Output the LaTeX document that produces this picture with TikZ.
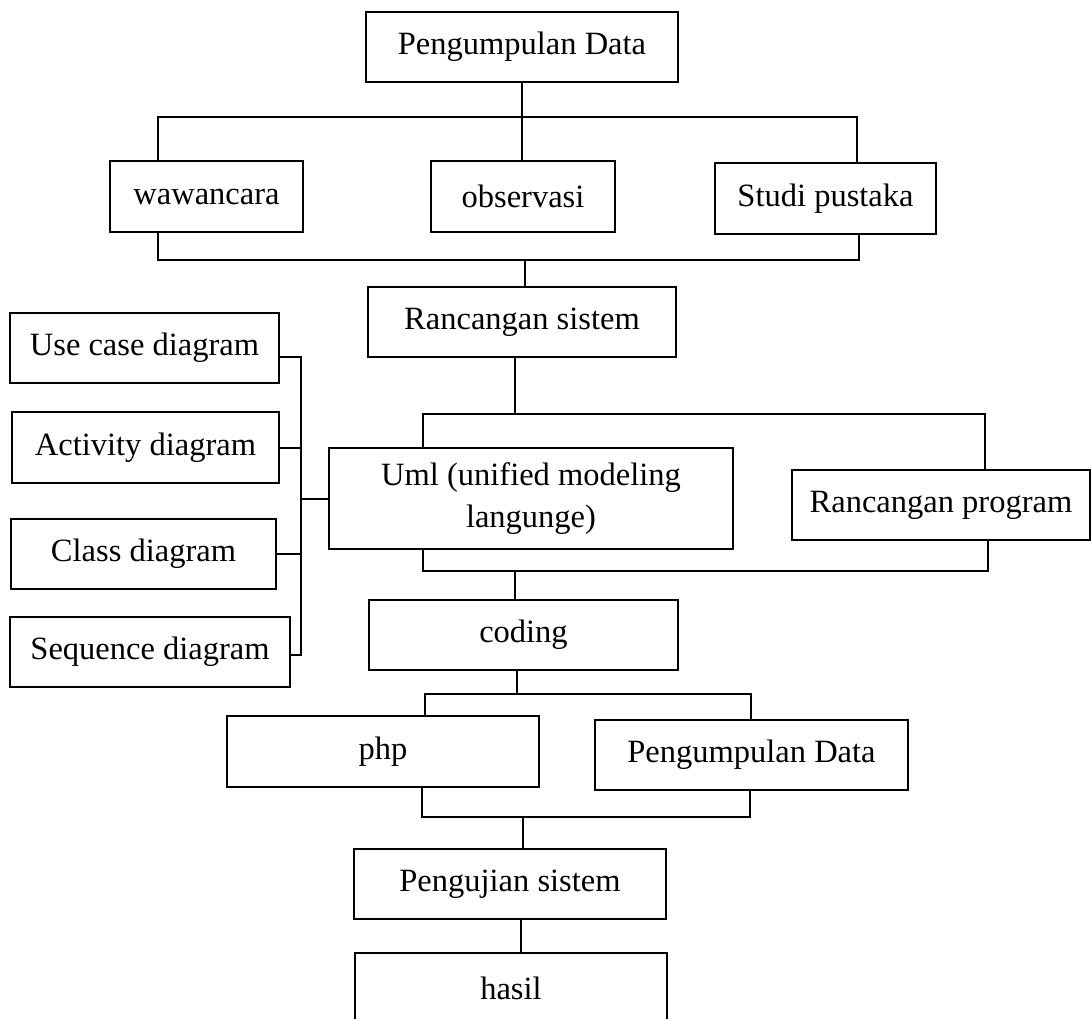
\documentclass[tikz,border=0pt]{standalone}
\usepackage{fontspec}
\setmainfont{Liberation Serif}
\begin{document}
\begin{tikzpicture}[x=1pt,y=-1pt,
  box/.style={draw, line width=2.6pt, inner sep=0pt, align=center,
    font=\fontsize{32.5}{38}\selectfont},
  link/.style={line width=2pt}]
\useasboundingbox (0,0) rectangle (1092,1018);

% boxes
\node[box, minimum width=312pt, minimum height=70pt] (pd1) at (522,47) {Pengumpulan Data};
\node[box, minimum width=193pt, minimum height=71pt] (waw) at (206.5,196.5) {wawancara};
\node[box, minimum width=184pt, minimum height=71pt] (obs) at (523,196.5) {observasi};
\node[box, minimum width=221pt, minimum height=71pt] (stu) at (825.5,198.5) {Studi pustaka};
\node[box, minimum width=308pt, minimum height=70pt] (rs) at (522,322) {Rancangan sistem};
\node[box, minimum width=269pt, minimum height=70pt] (use) at (144.5,348) {Use case diagram};
\node[box, minimum width=267pt, minimum height=71pt] (act) at (145.5,447.5) {Activity diagram};
\node[box, minimum width=265pt, minimum height=70pt] (cls) at (143.5,554) {Class diagram};
\node[box, minimum width=280pt, minimum height=70pt] (seq) at (150,652) {Sequence diagram};
\node[box, minimum width=404pt, minimum height=101pt,
  font=\fontsize{32.5}{42}\selectfont] (uml) at (531,498.5) {Uml (unified modeling\\langunge)};
\node[box, minimum width=298pt, minimum height=70pt] (rp) at (941,505) {Rancangan program};
\node[box, minimum width=309pt, minimum height=70pt] (cod) at (523.5,635) {coding};
\node[box, minimum width=312pt, minimum height=71pt] (php) at (383,751.5) {php};
\node[box, minimum width=313pt, minimum height=70pt] (pd2) at (751.5,755) {Pengumpulan Data};
\node[box, minimum width=312pt, minimum height=70pt] (pen) at (510,884) {Pengujian sistem};
\node[box, minimum width=312pt, minimum height=70pt] (has) at (511,988) {hasil};

% junction points
\coordinate (t1) at (158,117);
\coordinate (t2) at (857,117);
\coordinate (u1) at (158,260);
\coordinate (u2) at (859,260);
\coordinate (u0) at (525,260);
\coordinate (v0) at (515,414);
\coordinate (v1) at (423,414);
\coordinate (v2) at (985,414);
\coordinate (bt) at (301,357);
\coordinate (bb) at (301,655);
\coordinate (w0) at (515,572);
\coordinate (w1) at (423,572);
\coordinate (w2) at (988,571);
\coordinate (x0) at (517,694);
\coordinate (x1) at (425,694);
\coordinate (x2) at (751,694);
\coordinate (y0) at (523,816);
\coordinate (y1) at (422,816);
\coordinate (y2) at (750,817);
\coordinate (z0) at (521,936);

% data collection
\draw[link] (pd1.south) -- (pd1.south |- obs.north);
\draw[link] (waw.north -| t1) |- (t2) -- (stu.north -| t2);
\draw[link] (waw.south -| u1) |- (u2) -- (stu.south -| u2);
\draw[link] (u0) -- (u0 |- rs.north);

% system design
\draw[link] (v0 |- rs.south) -- (v0);
\draw[link] (uml.north -| v1) |- (v2) -- (rp.north -| v2);

% UML diagrams bus
\draw[link] (use.east |- bt) -- (bt) -- (bb) -- (seq.east |- bb);
\draw[link] (act.east) -- (act.east -| bt);
\draw[link] (cls.east) -- (cls.east -| bt);
\draw[link] (uml.west) -- (uml.west -| bt);

% into coding
\draw[link] (uml.south -| w1) |- (w2) -- (rp.south -| w2);
\draw[link] (w0) -- (w0 |- cod.north);

% coding outputs
\draw[link] (x0 |- cod.south) -- (x0);
\draw[link] (php.north -| x1) |- (x2) -- (pd2.north -| x2);
\draw[link] (php.south -| y1) |- (y2) -- (pd2.south -| y2);
\draw[link] (y0) -- (y0 |- pen.north);

% testing and result
\draw[link] (z0 |- pen.south) -- (z0 |- has.north);
\end{tikzpicture}
\end{document}
